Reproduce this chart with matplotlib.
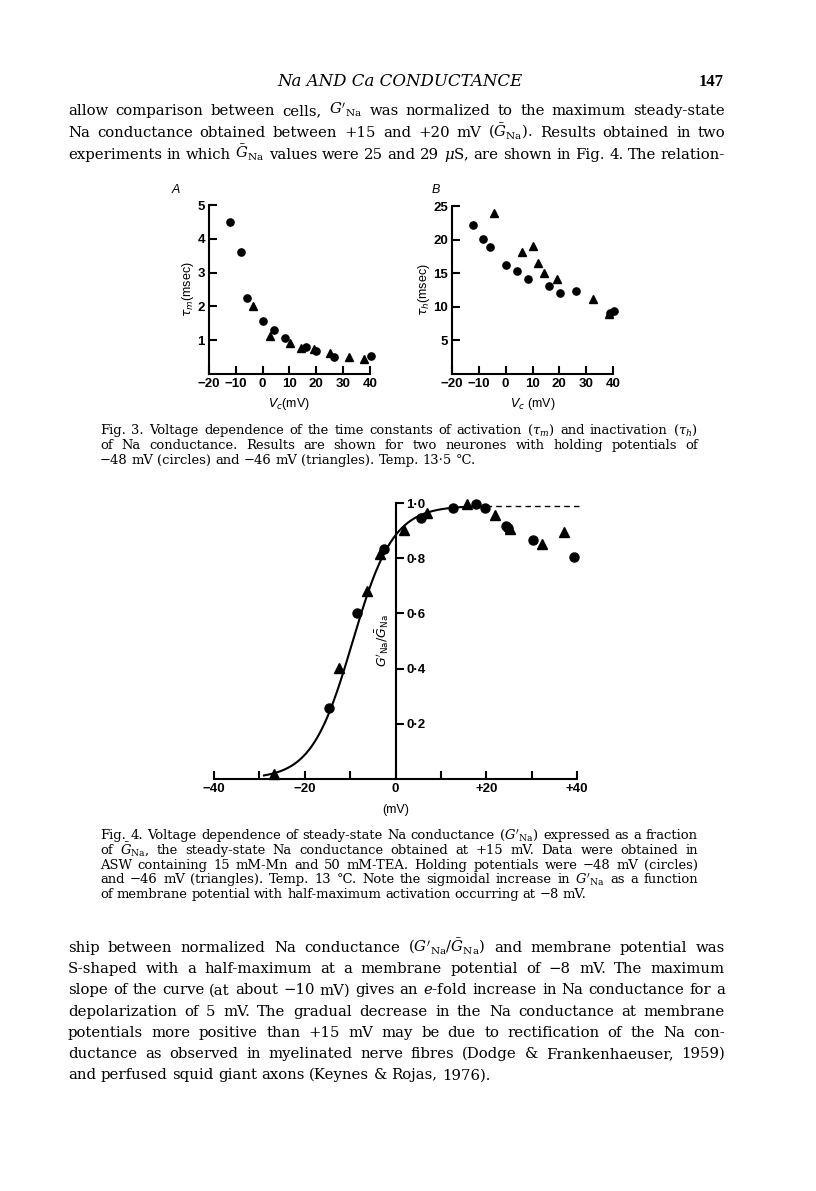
import numpy as np
import matplotlib
matplotlib.use('Agg')
import matplotlib.pyplot as plt

plt.rcParams['mathtext.fontset'] = 'dejavuserif'

W, H = 816, 1191

# Fig. 3A  tau_m (msec) vs Vc (mV)
a_circ_v = [-12.3, -8.0, -5.8, 0.2, 4.3, 8.2, 16.0, 20.0, 26.5, 40.2]
a_circ_t = [4.51, 3.62, 2.26, 1.58, 1.31, 1.06, 0.79, 0.69, 0.49, 0.54]
a_tri_v = [-3.7, 2.7, 10.1, 14.2, 19.0, 25.0, 32.0, 37.8]
a_tri_t = [2.0, 1.11, 0.91, 0.77, 0.74, 0.62, 0.49, 0.45]

# Fig. 3B  tau_h (msec) vs Vc (mV)
b_circ_v = [-12.3, -8.5, -6.0, 0.0, 4.1, 8.3, 16.1, 20.3, 26.3, 39.0, 40.3]
b_circ_t = [22.2, 20.1, 18.9, 16.2, 15.4, 14.1, 13.1, 12.1, 12.3, 9.1, 9.4]
b_tri_v = [-4.3, 6.1, 10.0, 12.0, 14.3, 19.0, 32.4, 38.4]
b_tri_t = [24.0, 18.1, 19.0, 16.5, 15.0, 14.1, 11.2, 9.0]

# Fig. 4  G'Na / GNa vs membrane potential (mV)
c_circ_v = [-14.6, -8.5, -2.5, 5.7, 12.6, 17.7, 19.7, 24.3, 24.8, 30.2, 39.4]
c_circ_g = [0.258, 0.600, 0.835, 0.947, 0.983, 0.995, 0.983, 0.917, 0.911, 0.865, 0.805]
c_tri_v = [-26.8, -12.4, -6.3, -3.4, 1.8, 6.9, 15.7, 22.0, 25.3, 32.2, 37.2]
c_tri_g = [0.017, 0.402, 0.681, 0.817, 0.901, 0.964, 0.995, 0.955, 0.907, 0.853, 0.895]

# fitted Boltzmann curve
v_half = -9.5
slope_k = 4.5
max_level = 0.99

a_xticks = [-20, -10, 0, 10, 20, 30, 40]
a_xlabels = ['\u221220', '\u221210', '0', '10', '20', '30', '40']
a_yticks = [1, 2, 3, 4, 5]
b_yticks = [5, 10, 15, 20, 25]
c_xticks = [-40, -20, 0, 20, 40]
c_xlabels = ['\u221240', '\u221220', '0', '+20', '+40']
c_xminor = [-30, -10, 10, 30]
c_yticks = [0.2, 0.4, 0.6, 0.8, 1.0]
c_ylabels = ['0\u00b72', '0\u00b74', '0\u00b76', '0\u00b78', '1\u00b70']

header = 'Na AND Ca CONDUCTANCE'
page_no = '147'

GNA = "$G'_{\\mathrm{Na}}$"
GBAR = "$\\bar{G}_{\\mathrm{Na}}$"

para1 = [
    "allow comparison between cells, " + GNA + " was normalized to the maximum steady-state",
    "Na conductance obtained between +15 and +20 mV (" + GBAR + "). Results obtained in two",
    "experiments in which " + GBAR + " values were 25 and 29 $\\mu$S, are shown in Fig. 4. The relation-",
]
cap3 = [
    "Fig. 3. Voltage dependence of the time constants of activation ($\\tau_m$) and inactivation ($\\tau_h$)",
    "of Na conductance. Results are shown for two neurones with holding potentials of",
    "\u221248 mV (circles) and \u221246 mV (triangles). Temp. 13\u00b75 \u00b0C.",
]
cap4 = [
    "Fig. 4. Voltage dependence of steady-state Na conductance (" + GNA + ") expressed as a fraction",
    "of " + GBAR + ", the steady-state Na conductance obtained at +15 mV. Data were obtained in",
    "ASW containing 15 mM-Mn and 50 mM-TEA. Holding potentials were \u221248 mV (circles)",
    "and \u221246 mV (triangles). Temp. 13 \u00b0C. Note the sigmoidal increase in " + GNA + " as a function",
    "of membrane potential with half-maximum activation occurring at \u22128 mV.",
]
para2 = [
    "ship between normalized Na conductance ($G'_{\\mathrm{Na}}/\\bar{G}_{\\mathrm{Na}}$) and membrane potential was",
    "S-shaped with a half-maximum at a membrane potential of \u22128 mV. The maximum",
    "slope of the curve (at about \u221210 mV) gives an $e$-fold increase in Na conductance for a",
    "depolarization of 5 mV. The gradual decrease in the Na conductance at membrane",
    "potentials more positive than +15 mV may be due to rectification of the Na con-",
    "ductance as observed in myelinated nerve fibres (Dodge & Frankenhaeuser, 1959)",
    "and perfused squid giant axons (Keynes & Rojas, 1976).",
]

fig = plt.figure(figsize=(W / 100, H / 100), dpi=100)
fig.patch.set_facecolor('white')
renderer = fig.canvas.get_renderer()

SANS = 'Liberation Sans'
SERIF = 'DejaVu Serif'


def box(l, t, r, b):
    return fig.add_axes([l / W, 1 - b / H, (r - l) / W, (b - t) / H])


def text_width(s, size, **kw):
    t = fig.text(0, 0, s, fontsize=size, **kw)
    w = t.get_window_extent(renderer).width
    t.remove()
    return w


def fit_size(lines, width, base=10.0):
    # one size for a block: the widest full line just fits with normal spaces
    ratios = [text_width(l, base, family=SERIF) / width for l in lines[:-1]]
    return base / max(ratios)


def justify(line, x0, x1, y, size, last=False):
    words = line.split(' ')
    items = [fig.text(0, 1 - y / H, w, fontsize=size, family=SERIF, va='baseline') for w in words]
    widths = [t.get_window_extent(renderer).width for t in items]
    if last:
        gap = 0.3 * size * 100 / 72
    else:
        gap = (x1 - x0 - sum(widths)) / (len(words) - 1)
    x = x0
    for t, w in zip(items, widths):
        t.set_x(x / W)
        x += w + gap


def small_axes(ax):
    for s in ['top', 'right']:
        ax.spines[s].set_visible(False)
    for s in ['left', 'bottom']:
        ax.spines[s].set_linewidth(1.5)
    ax.tick_params(direction='in', length=6, width=1.5, labelsize=9.5, pad=3)
    for lab in ax.get_xticklabels() + ax.get_yticklabels():
        lab.set_family(SANS)
        lab.set_weight('bold')


# ---- Fig. 3A
axA = box(209, 205, 370, 374)
axA.plot(a_circ_v, a_circ_t, 'o', color='black', ms=5.2, clip_on=False)
axA.plot(a_tri_v, a_tri_t, '^', color='black', ms=5.2, clip_on=False)
axA.set_xlim(-20, 40)
axA.set_ylim(0, 5)
axA.set_xticks(a_xticks)
axA.set_xticklabels(a_xlabels)
axA.set_yticks(a_yticks)
small_axes(axA)
axA.set_ylabel('$\\tau_m$(msec)', fontsize=9, family=SANS, math_fontfamily='dejavusans', labelpad=1)
axA.set_xlabel('$V_c$(mV)', fontsize=9, family=SANS, math_fontfamily='dejavusans', labelpad=4)
fig.text(176 / W, 1 - 190 / H, 'A', fontsize=9, family=SANS, style='italic', ha='center', va='center')

# ---- Fig. 3B
axB = box(452, 206, 613, 374)
axB.plot(b_circ_v, b_circ_t, 'o', color='black', ms=5.2, clip_on=False)
axB.plot(b_tri_v, b_tri_t, '^', color='black', ms=5.2, clip_on=False)
axB.set_xlim(-20, 40)
axB.set_ylim(0, 25)
axB.set_xticks(a_xticks)
axB.set_xticklabels(a_xlabels)
axB.set_yticks(b_yticks)
small_axes(axB)
axB.set_ylabel('$\\tau_h$(msec)', fontsize=9, family=SANS, math_fontfamily='dejavusans', labelpad=1)
axB.set_xlabel('$V_c$ (mV)', fontsize=9, family=SANS, math_fontfamily='dejavusans', labelpad=4)
fig.text(436 / W, 1 - 190 / H, 'B', fontsize=9, family=SANS, style='italic', ha='center', va='center')

# ---- Fig. 4
axC = box(214, 503, 577, 779)
vv = np.linspace(-29, 20, 300)
axC.plot(vv, max_level / (1 + np.exp(-(vv - v_half) / slope_k)), color='black', lw=1.5, clip_on=False)
axC.plot([20, 40.5], [max_level, max_level], color='black', lw=1.0, dashes=(4, 3), clip_on=False)
axC.plot(c_circ_v, c_circ_g, 'o', color='black', ms=6.5, clip_on=False)
axC.plot(c_tri_v, c_tri_g, '^', color='black', ms=6.5, clip_on=False)
axC.set_xlim(-40, 40)
axC.set_ylim(0, 1.0)
axC.spines['top'].set_visible(False)
axC.spines['left'].set_visible(False)
axC.spines['right'].set_position(('data', 0))
axC.spines['right'].set_linewidth(1.5)
axC.spines['bottom'].set_linewidth(1.5)
axC.yaxis.tick_right()
axC.set_yticks(c_yticks)
axC.set_yticklabels(c_ylabels)
axC.set_xticks(c_xticks)
axC.set_xticklabels(c_xlabels)
axC.set_xticks(c_xminor, minor=True)
axC.tick_params(axis='x', which='both', direction='in', length=6, width=1.5, labelsize=9.5, pad=3)
axC.tick_params(axis='y', direction='out', length=6, width=1.5, labelsize=9.5, pad=2)
for lab in axC.get_xticklabels() + axC.get_yticklabels():
    lab.set_family(SANS)
    lab.set_weight('bold')
axC.set_xlabel('(mV)', fontsize=9, family=SANS, labelpad=6)
axC.text(0.463, 0.5, "$G'_{\\mathrm{Na}}/\\bar{G}_{\\mathrm{Na}}$", transform=axC.transAxes, rotation=90,
         fontsize=9, math_fontfamily='dejavusans', ha='center', va='center')

# ---- page text
fig.text(400 / W, 1 - 86 / H, header, fontsize=12, family=SERIF, style='italic', ha='center', va='baseline')
fig.text(724 / W, 1 - 86 / H, page_no, fontsize=12, family='Liberation Serif', weight='bold',
         ha='right', va='baseline')

body_size = fit_size(para1 + para2[:-1] + ['x'], 725 - 68)
cap_size = fit_size(cap3[:-1] + cap4[:-1] + ['x'], 698 - 100)

for i, line in enumerate(para1):
    justify(line, 68, 725, 115 + i * 22, body_size)
for i, line in enumerate(cap3):
    justify(line, 100, 698, 434 + i * 15, cap_size, last=(i == len(cap3) - 1))
for i, line in enumerate(cap4):
    justify(line, 100, 698, 839 + i * 14.8, cap_size, last=(i == len(cap4) - 1))
for i, line in enumerate(para2):
    justify(line, 68, 725, 952 + i * 21.2, body_size, last=(i == len(para2) - 1))

fig.savefig('out.png', dpi=100, facecolor='white')
